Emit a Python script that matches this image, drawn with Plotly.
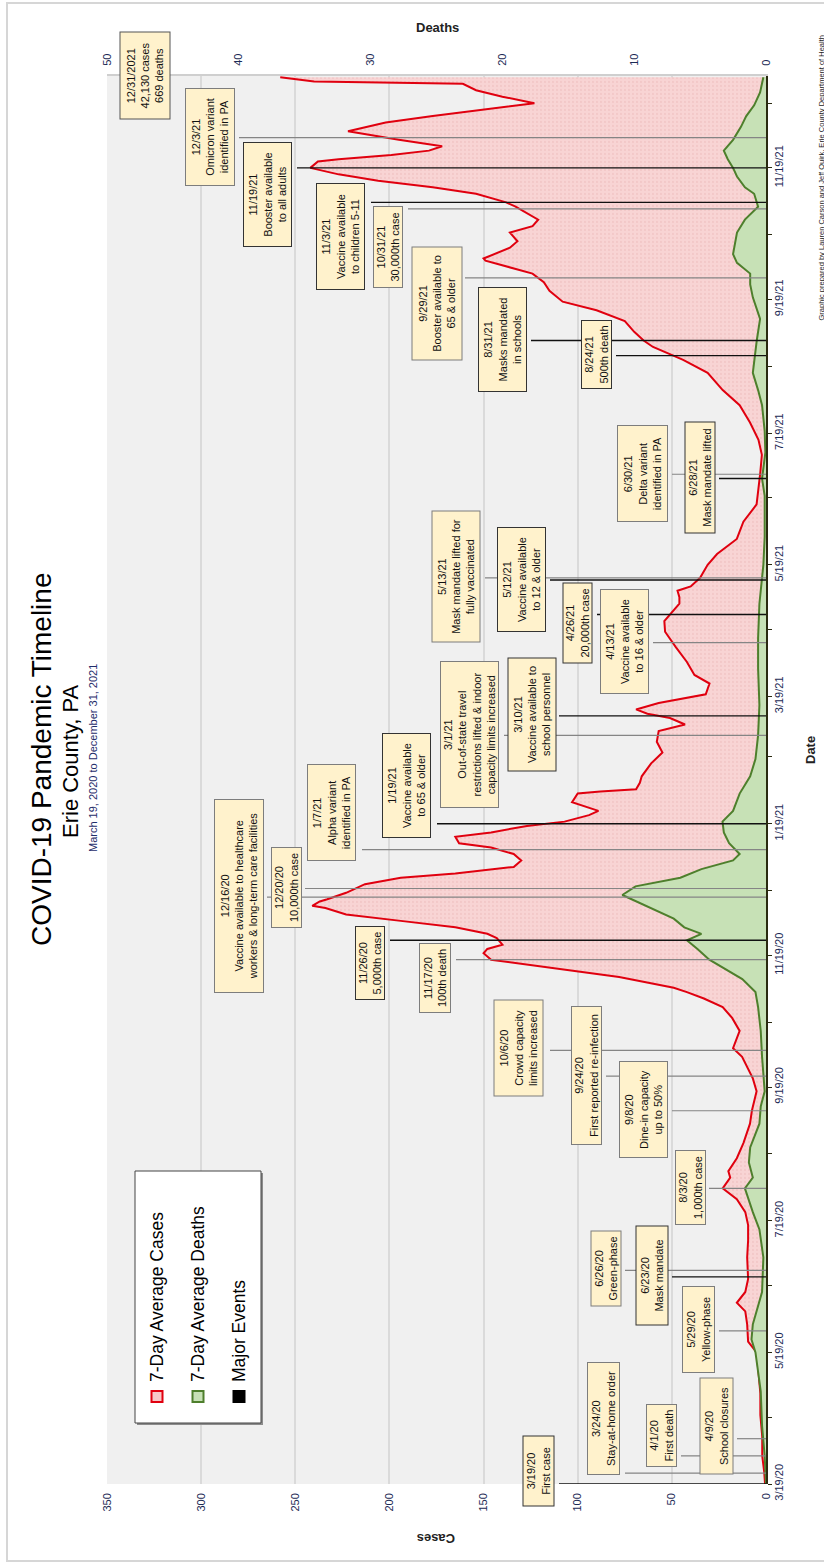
import plotly.graph_objects as go

# ---------------- DATA ----------------
case_dates = [
    "2020-03-19", "2020-03-25", "2020-04-01", "2020-04-10", "2020-04-20", "2020-04-30",
    "2020-05-10", "2020-05-19", "2020-05-24", "2020-06-01", "2020-06-07", "2020-06-11",
    "2020-06-16", "2020-06-22", "2020-07-02", "2020-07-10", "2020-07-17", "2020-07-23",
    "2020-07-29", "2020-08-03", "2020-08-08", "2020-08-11", "2020-08-17", "2020-08-24",
    "2020-09-02", "2020-09-08", "2020-09-17", "2020-09-23", "2020-10-03", "2020-10-07",
    "2020-10-15", "2020-10-21", "2020-10-26", "2020-10-30", "2020-11-02", "2020-11-04",
    "2020-11-09", "2020-11-12", "2020-11-15", "2020-11-17", "2020-11-20", "2020-11-22",
    "2020-11-24", "2020-11-27", "2020-11-29", "2020-12-02", "2020-12-05", "2020-12-08",
    "2020-12-11", "2020-12-12", "2020-12-14", "2020-12-15", "2020-12-18", "2020-12-20",
    "2020-12-22", "2020-12-25", "2020-12-27", "2020-12-30",
    "2021-01-02", "2021-01-05", "2021-01-08", "2021-01-10", "2021-01-13", "2021-01-15",
    "2021-01-18", "2021-01-20", "2021-01-23", "2021-01-25", "2021-01-27", "2021-01-29",
    "2021-02-02", "2021-02-03", "2021-02-04", "2021-02-07", "2021-02-10", "2021-02-16",
    "2021-02-21", "2021-02-26", "2021-03-03", "2021-03-06", "2021-03-09", "2021-03-11",
    "2021-03-13", "2021-03-16", "2021-03-20", "2021-03-25", "2021-03-29", "2021-04-04",
    "2021-04-11", "2021-04-15", "2021-04-18", "2021-04-23", "2021-04-28", "2021-05-01",
    "2021-05-04", "2021-05-07", "2021-05-09", "2021-05-13", "2021-05-19", "2021-05-24",
    "2021-05-31", "2021-06-08", "2021-06-16", "2021-06-23", "2021-07-01", "2021-07-09",
    "2021-07-16", "2021-07-24", "2021-08-01", "2021-08-08", "2021-08-16", "2021-08-22",
    "2021-08-28", "2021-08-31", "2021-09-04", "2021-09-09", "2021-09-14", "2021-09-18",
    "2021-09-23", "2021-09-27", "2021-10-01", "2021-10-07", "2021-10-08", "2021-10-13",
    "2021-10-16", "2021-10-20", "2021-10-23", "2021-10-26", "2021-10-29", "2021-11-01",
    "2021-11-03", "2021-11-07", "2021-11-10", "2021-11-13", "2021-11-16", "2021-11-19",
    "2021-11-22", "2021-11-23", "2021-11-25", "2021-11-27", "2021-11-29", "2021-12-02",
    "2021-12-06", "2021-12-09", "2021-12-10", "2021-12-13", "2021-12-16", "2021-12-19",
    "2021-12-22", "2021-12-25", "2021-12-28", "2021-12-29", "2021-12-31",
]
case_values = [
    0.5, 1, 2, 2, 3, 3,
    4, 5, 9.5, 10, 11, 15.5,
    11, 9.5, 10, 9.5, 9.5, 11,
    15.5, 23, 19, 20, 15.5, 12,
    8.5, 7.5, 5, 7, 12.7, 17.5,
    14, 18, 23, 33, 42, 49,
    78, 103, 127, 146, 150, 148,
    140, 143, 148, 165, 194, 223,
    234, 241, 237, 233, 223, 218,
    213, 194, 165, 134,
    130, 134, 146, 163, 165, 146,
    127, 107, 94, 89, 96, 103,
    100, 88, 69, 67, 66, 61,
    55, 58, 57, 43, 51, 63,
    69, 57, 32, 30, 38, 42,
    48, 51, 53.6, 54, 49, 46,
    46, 47, 40, 35, 31, 26,
    15.5, 12, 5, 4, 3, 2.2,
    4, 8.5, 14, 23, 31, 44,
    60, 65, 70, 75, 90, 108,
    115, 118, 124, 149, 150, 136,
    132, 136, 124, 121, 127, 133,
    138, 154, 177, 206, 227, 242,
    238, 227, 199, 179, 172, 195,
    222, 208, 202, 177, 149, 123,
    140, 154, 161, 240, 258,
]

death_dates = [
    "2020-03-19", "2020-04-01", "2020-04-15", "2020-05-01", "2020-05-19", "2020-05-25",
    "2020-06-01", "2020-06-10", "2020-06-16", "2020-07-02", "2020-07-15", "2020-07-23",
    "2020-08-03", "2020-08-08", "2020-08-15", "2020-08-22", "2020-09-02", "2020-09-10",
    "2020-09-17", "2020-10-03", "2020-10-15", "2020-10-26", "2020-11-02", "2020-11-08",
    "2020-11-12", "2020-11-17", "2020-11-22", "2020-11-26", "2020-11-29", "2020-12-02",
    "2020-12-06", "2020-12-10", "2020-12-17", "2020-12-21", "2020-12-25", "2020-12-29",
    "2021-01-02", "2021-01-05", "2021-01-10", "2021-01-15", "2021-01-20", "2021-01-25",
    "2021-02-02", "2021-02-10", "2021-02-18", "2021-03-01", "2021-03-15", "2021-04-01",
    "2021-04-15", "2021-05-01", "2021-05-19", "2021-06-01", "2021-06-20", "2021-06-28",
    "2021-07-10", "2021-07-20", "2021-08-01", "2021-08-08", "2021-08-16", "2021-08-31",
    "2021-09-10", "2021-09-20", "2021-09-26", "2021-10-01", "2021-10-06", "2021-10-10",
    "2021-10-20", "2021-10-26", "2021-11-01", "2021-11-07", "2021-11-10", "2021-11-15",
    "2021-11-19", "2021-11-23", "2021-11-27", "2021-12-02", "2021-12-08", "2021-12-13",
    "2021-12-18", "2021-12-24", "2021-12-31",
]
death_values = [
    0, 0.1, 0.3, 0.4, 0.8, 1.1,
    1.0, 0.6, 0.3, 0.2, 0.5, 1.0,
    1.6, 1.0, 1.3, 1.2, 0.5, 0.4,
    0.1, 0.3, 0.4, 0.6, 0.8, 1.8,
    2.9, 4.3, 5.2, 6.0, 4.9, 6.2,
    7.0, 8.4, 10.9, 9.9, 6.5, 4.9,
    2.5, 2.0, 2.8, 3.2, 3.3, 2.5,
    2.0, 1.2, 0.8, 0.6, 0.5, 0.6,
    0.6, 0.5, 0.2, 0.1, 0.1, 0.3,
    0.05, 0.1, 0.3, 0.6, 1.0, 0.7,
    0.45, 1.0, 1.2, 1.2, 2.2, 2.5,
    2.2, 1.6, 0.6, 0.9, 1.6, 2.2,
    2.5, 2.9, 3.2, 2.5, 1.9, 1.5,
    0.9, 0.45, 0.2,
]

event_dates = [
    "2020-03-19", "2020-03-24", "2020-04-01", "2020-04-09", "2020-05-29", "2020-06-23",
    "2020-06-26", "2020-08-03", "2020-09-08", "2020-09-24", "2020-10-06", "2020-11-17",
    "2020-11-26", "2020-12-16", "2020-12-20", "2021-01-07", "2021-01-19", "2021-03-01",
    "2021-03-10", "2021-04-13", "2021-04-26", "2021-05-12", "2021-05-13", "2021-06-28",
    "2021-06-30", "2021-08-24", "2021-08-31", "2021-09-29", "2021-10-31", "2021-11-03",
    "2021-11-19", "2021-12-03",
]
event_labels = [
    "3/19/20<br>First case",
    "3/24/20<br>Stay-at-home order",
    "4/1/20<br>First death",
    "4/9/20<br>School closures",
    "5/29/20<br>Yellow-phase",
    "6/23/20<br>Mask mandate",
    "6/26/20<br>Green-phase",
    "8/3/20<br>1,000th case",
    "9/8/20<br>Dine-in capacity<br>up to 50%",
    "9/24/20<br>First reported re-infection",
    "10/6/20<br>Crowd capacity<br>limits increased",
    "11/17/20<br>100th death",
    "11/26/20<br>5,000th case",
    "12/16/20<br>Vaccine available to healthcare<br>workers & long-term care facilities",
    "12/20/20<br>10,000th case",
    "1/7/21<br>Alpha variant<br>identified in PA",
    "1/19/21<br>Vaccine available<br>to 65 & older",
    "3/1/21<br>Out-of-state travel<br>restrictions lifted & indoor<br>capacity limits increased",
    "3/10/21<br>Vaccine available to<br>school personnel",
    "4/13/21<br>Vaccine available<br>to 16 & older",
    "4/26/21<br>20,000th case",
    "5/12/21<br>Vaccine available<br>to 12 & older",
    "5/13/21<br>Mask mandate lifted for<br>fully vaccinated",
    "6/28/21<br>Mask mandate lifted",
    "6/30/21<br>Delta variant<br>identified in PA",
    "8/24/21<br>500th death",
    "8/31/21<br>Masks mandated<br>in schools",
    "9/29/21<br>Booster available to<br>65 & older",
    "10/31/21<br>30,000th case",
    "11/3/21<br>Vaccine available<br>to children 5-11",
    "11/19/21<br>Booster available<br>to all adults",
    "12/3/21<br>Omicron variant<br>identified in PA",
]
summary_label = "12/31/2021<br>42,130 cases<br>669 deaths"

case_ticks = [0, 50, 100, 150, 200, 250, 300, 350]
death_ticks = [0, 10, 20, 30, 40, 50]
date_tick_vals = [
    "2020-03-19", "2020-04-19", "2020-05-19", "2020-06-19", "2020-07-19", "2020-08-19",
    "2020-09-19", "2020-10-19", "2020-11-19", "2020-12-19", "2021-01-19", "2021-02-19",
    "2021-03-19", "2021-04-19", "2021-05-19", "2021-06-19", "2021-07-19", "2021-08-19",
    "2021-09-19", "2021-10-19", "2021-11-19", "2021-12-19",
]
date_tick_text = [
    "3/19/20", "", "5/19/20", "", "7/19/20", "", "9/19/20", "", "11/19/20", "",
    "1/19/21", "", "3/19/21", "", "5/19/21", "", "7/19/21", "", "9/19/21", "",
    "11/19/21", "",
]

# ---------------- LAYOUT (pixels) ----------------
W, H = 824, 1562
PL, PR, PT, PB = 107, 766, 76, 1484


def fx(px):
    return (px - PL) / (PR - PL)


def fy(py):
    return (PB - py) / (PB - PT)


# box centre (x, y), box size (horizontal, vertical), line start x, dark flag
box_cx = [538, 603.5, 661.5, 716, 698.5, 651.5, 605.5, 690.5, 643.5, 586.5, 518, 435,
          370, 239, 286.5, 331.5, 406.5, 469.5, 531.5, 624.5, 578, 521.5, 455.5, 699.5,
          642.5, 596.5, 502.5, 436.5, 388, 340.5, 267.5, 210]
box_cy = [1471.5, 1418.5, 1435.5, 1426.5, 1329.5, 1276, 1269, 1187.5, 1109.5, 1075.5,
          1048.5, 978, 963, 896, 887.5, 812.5, 785.5, 734.5, 715, 641.5, 623.5, 579.5,
          577, 478, 473.5, 354.5, 339.5, 304, 247, 236.5, 194.5, 137]
box_w = [32, 33, 31, 34, 33, 33, 31, 31, 49, 31, 50, 32, 30, 50, 31, 49, 49, 59, 49, 49,
         30, 49, 49, 31, 51, 31, 49, 51, 30, 49, 49, 50]
box_h = [71, 113, 63, 97, 87, 100, 76, 75, 97, 139, 97, 70, 74, 194, 81, 97, 105, 147,
         114, 105, 81, 105, 132, 112, 97, 69, 105, 114, 82, 107, 105, 98]
line_x0 = [559, 625, 681, 737, 719, 672, 625, 709, 672, 606, 550, 456, 390, 267, 305, 362,
           437, 504, 559, 653, 597, 550, 485, 719, 672, 616, 531, 465, 408, 371, 297, 239]
dark = [1, 0, 0, 0, 0, 1, 0, 0, 0, 0, 0, 0, 1, 0, 0, 0, 1, 0, 1, 0, 1, 1, 0, 1, 0, 1, 1,
        0, 0, 1, 1, 0]

FONT = "Liberation Sans, Arial, sans-serif"
NAVY = "#1c2a55"
BOXFILL = "#FFF2CC"

fig = go.Figure()

fig.add_trace(go.Scatter(
    x=case_values, y=case_dates, mode="lines", xaxis="x", yaxis="y",
    line=dict(color="#e0000f", width=2), fill="tozerox", fillcolor="#f7d0d0",
    fillpattern=dict(shape=".", fgcolor="#eebcbc", bgcolor="#f8d4d4", size=4, solidity=0.25),
    name="7-Day Average Cases", showlegend=False,
))
fig.add_trace(go.Scatter(
    x=death_values, y=death_dates, mode="lines", xaxis="x2", yaxis="y",
    line=dict(color="#4e7f2c", width=2), fill="tozerox", fillcolor="#c7e1b6",
    name="7-Day Average Deaths", showlegend=False,
))

shapes = []
annotations = []

# outer border
shapes.append(dict(type="rect", xref="paper", yref="paper", x0=fx(7), x1=fx(840),
                   y0=fy(1561), y1=fy(3), line=dict(color="#d6d6d6", width=2), layer="below"))

# event lines
for i, d in enumerate(event_dates):
    shapes.append(dict(type="line", xref="paper", yref="y", x0=fx(line_x0[i]), x1=1,
                       y0=d, y1=d, layer="above",
                       line=dict(color="#111111" if dark[i] else "#858585",
                                 width=1.4 if dark[i] else 1.2)))


def centred(**kw):
    d = dict(xref="paper", yref="paper", showarrow=False, xanchor="center", yanchor="middle")
    d.update(kw)
    return d


# event boxes
for i, lab in enumerate(event_labels):
    annotations.append(centred(
        text=lab, x=fx(box_cx[i]), y=fy(box_cy[i]), textangle=-90, align="center",
        width=box_h[i] - 2, height=box_w[i] - 2,
        bgcolor=BOXFILL, bordercolor="#333333" if dark[i] else "#7d7d7d",
        borderwidth=1, borderpad=0,
        font=dict(family=FONT, size=11, color="#111111"),
    ))
annotations.append(centred(
    text=summary_label, x=fx(144.5), y=fy(76), textangle=-90, align="center",
    width=86, height=49, bgcolor=BOXFILL, bordercolor="#555555", borderwidth=1, borderpad=0,
    font=dict(family=FONT, size=11, color="#111111"),
))

# titles
annotations += [
    centred(text="COVID-19 Pandemic Timeline", x=fx(41), y=fy(760), textangle=-90,
            font=dict(family=FONT, size=28, color="#000000")),
    centred(text="Erie County, PA", x=fx(71), y=fy(761), textangle=-90,
            font=dict(family=FONT, size=22, color="#000000")),
    centred(text="March 19, 2020 to December 31, 2021", x=fx(93), y=fy(758), textangle=-90,
            font=dict(family=FONT, size=11, color="#1f2d6b")),
    centred(text="<b>Deaths</b>", x=fx(437), y=fy(28),
            font=dict(family=FONT, size=13, color="#222222")),
    centred(text="<b>Cases</b>", x=fx(436), y=fy(1539), textangle=180,
            font=dict(family=FONT, size=13, color="#222222")),
    centred(text="<b>Date</b>", x=fx(811), y=fy(750), textangle=-90,
            font=dict(family=FONT, size=13, color="#222222")),
    centred(text="Graphic prepared by Lauren Carson and Jeff Quirk, Erie County Department of Health",
            x=fx(821), y=fy(33), yanchor="top", textangle=-90,
            font=dict(family=FONT, size=7.5, color="#222222")),
]

# legend
shapes.append(dict(type="rect", xref="paper", yref="paper", x0=fx(137), x1=fx(263),
                   y0=fy(1425), y1=fy(1173), fillcolor="#8c8c8c", line=dict(width=0),
                   layer="above"))
shapes.append(dict(type="rect", xref="paper", yref="paper", x0=fx(135), x1=fx(261),
                   y0=fy(1423), y1=fy(1171), fillcolor="#ffffff",
                   line=dict(color="#444444", width=1), layer="above"))
legend_items = ["7-Day Average Cases", "7-Day Average Deaths", "Major Events"]
legend_x = [157, 198, 239]
legend_fill = ["#f7c8c8", "#c7e1b6", "#000000"]
legend_line = ["#e0000f", "#4e7f2c", "#000000"]
for i, name in enumerate(legend_items):
    annotations.append(centred(text=name, x=fx(legend_x[i]), y=fy(1384), yanchor="bottom",
                               textangle=-90,
                               font=dict(family=FONT, size=17.5, color="#000000")))
    shapes.append(dict(type="rect", xref="paper", yref="paper",
                       x0=fx(legend_x[i] - 5.5), x1=fx(legend_x[i] + 5.5),
                       y0=fy(1402), y1=fy(1391), fillcolor=legend_fill[i],
                       line=dict(color=legend_line[i], width=2), layer="above"))

fig.update_layout(
    width=W, height=H,
    margin=dict(l=PL, r=W - PR, t=PT, b=H - PB, autoexpand=False),
    paper_bgcolor="#ffffff", plot_bgcolor="#f0f0f0",
    showlegend=False,
    font=dict(family=FONT, color=NAVY),
    shapes=shapes, annotations=annotations,
    xaxis=dict(range=[350, 0], tickvals=case_ticks, ticktext=[str(v) for v in case_ticks],
               tickangle=-90, showgrid=True, gridcolor="#dadada", gridwidth=1.5,
               zeroline=False, showline=False, ticks="", ticklabelstandoff=6,
               tickfont=dict(family=FONT, size=11, color=NAVY), automargin=False),
    xaxis2=dict(range=[50, 0], overlaying="x", side="top", tickvals=death_ticks,
                ticktext=[str(v) for v in death_ticks], tickangle=-90, showgrid=False,
                zeroline=False, showline=True, linecolor="#cfcfcf", linewidth=2,
                ticks="", ticklabelstandoff=6,
                tickfont=dict(family=FONT, size=11, color=NAVY), automargin=False),
    yaxis=dict(type="date", range=["2020-03-19", "2021-12-31 14:00"], side="right",
               tickvals=date_tick_vals, ticktext=date_tick_text, tickangle=-90,
               showgrid=False, zeroline=False, showline=True, linecolor="#2a2a10",
               linewidth=2, ticks="outside", ticklen=4, tickcolor="#2a2a10",
               ticklabelstandoff=-2,
               tickfont=dict(family=FONT, size=11, color=NAVY), automargin=False),
)

fig.write_html("out.html", config={"displayModeBar": False},
               post_script="document.body.style.margin='0';")
